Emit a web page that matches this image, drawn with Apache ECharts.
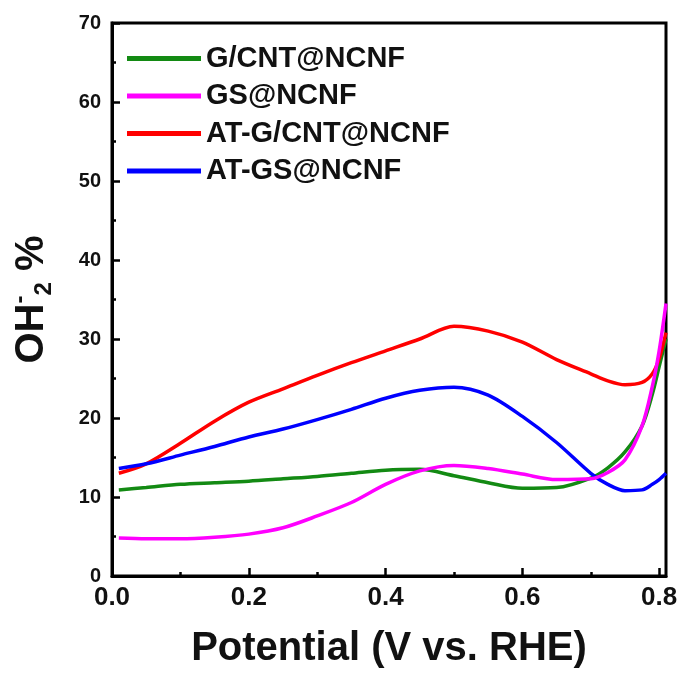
<!DOCTYPE html>
<html>
<head>
<meta charset="utf-8">
<script src="https://cdn.jsdelivr.net/npm/echarts@6/dist/echarts.min.js"></script>
<style>
  html, body { margin: 0; padding: 0; background: #fff; }
  #chart { width: 685px; height: 674px; }
</style>
</head>
<body>
<div id="chart"></div>
<script>
(function(){

    // potential (V vs. RHE), shared by all curves
    var potential = [0.01, 0.05, 0.10, 0.15, 0.20, 0.25, 0.30, 0.35, 0.40, 0.45, 0.50, 0.55, 0.60, 0.65, 0.70, 0.725, 0.75, 0.775, 0.79, 0.80, 0.81];

    var gCnt   = [10.9, 11.2, 11.6, 11.8, 12.0, 12.3, 12.6, 13.0, 13.4, 13.5, 12.7, 11.8, 11.1, 11.2, 12.4, 13.7, 15.7, 19.0, 23.0, 26.5, 30.0];
    var gs     = [4.8, 4.7, 4.7, 4.9, 5.3, 6.1, 7.6, 9.3, 11.6, 13.3, 14.0, 13.6, 12.9, 12.2, 12.3, 13.1, 14.7, 19.0, 24.0, 28.5, 34.5];
    var atGCnt = [13.0, 14.2, 16.8, 19.6, 22.0, 23.7, 25.4, 27.0, 28.5, 30.0, 31.6, 31.0, 29.6, 27.4, 25.6, 24.7, 24.2, 24.5, 25.6, 27.5, 30.8];
    var atGs   = [13.6, 14.2, 15.3, 16.4, 17.6, 18.6, 19.8, 21.1, 22.5, 23.5, 23.9, 22.9, 20.2, 16.9, 13.0, 11.6, 10.8, 10.9, 11.6, 12.2, 13.0];

    var names  = ['G/CNT@NCNF', 'GS@NCNF', 'AT-G/CNT@NCNF', 'AT-GS@NCNF'];
    var colors = ['#138a13', '#ff00ff', '#ff0000', '#0000ff'];

    var xMajor = [0, 0.2, 0.4, 0.6, 0.8];
    var xMinor = [0.1, 0.3, 0.5, 0.7];

    function pairs(ys) {
        return potential.map(function (x, i) { return [x, ys[i]]; });
    }

    var font = 'Liberation Sans, Arial, sans-serif';

    var series = [gCnt, gs, atGCnt, atGs].map(function (ys, i) {
        return {
            name: names[i],
            type: 'line',
            xAxisIndex: 0,
            data: pairs(ys),
            smooth: 0.3,
            showSymbol: false,
            symbol: 'none',
            lineStyle: { color: colors[i], width: 3.5 },
            itemStyle: { color: colors[i] },
            z: i === 1 ? 5 : 3
        };
    });

    var option = {
        animation: false,
        backgroundColor: '#fff',
        grid: {
            left: 112,
            right: 19,
            top: 23,
            bottom: 95,
            show: true,
            borderColor: '#000',
            borderWidth: 3,
            backgroundColor: 'transparent'
        },
        legend: {
            orient: 'vertical',
            left: 122,
            top: 39,
            icon: 'rect',
            itemWidth: 74,
            itemHeight: 5,
            itemGap: 8.5,
            data: names,
            textStyle: {
                fontFamily: font,
                fontWeight: 'bold',
                fontSize: 29,
                color: '#111'
            }
        },
        xAxis: [
            {
                type: 'value',
                min: 0,
                max: 0.81,
                name: 'Potential (V vs. RHE)',
                nameLocation: 'middle',
                nameGap: 53,
                nameTextStyle: {
                    fontFamily: font,
                    fontWeight: 'bold',
                    fontSize: 40,
                    color: '#111'
                },
                axisLine: { lineStyle: { color: '#000', width: 3 } },
                axisTick: {
                    inside: true,
                    length: 8,
                    customValues: xMajor,
                    lineStyle: { color: '#000', width: 2.5 }
                },
                axisLabel: {
                    customValues: xMajor,
                    margin: 9,
                    fontFamily: font,
                    fontWeight: 'bold',
                    fontSize: 26,
                    color: '#111',
                    formatter: function (v) { return v.toFixed(1); }
                },
                splitLine: { show: false }
            },
            {
                type: 'value',
                min: 0,
                max: 0.81,
                position: 'bottom',
                axisLine: { show: false },
                axisTick: {
                    inside: true,
                    length: 4,
                    customValues: xMinor,
                    lineStyle: { color: '#000', width: 2.5 }
                },
                axisLabel: { show: false },
                splitLine: { show: false }
            }
        ],
        yAxis: {
            type: 'value',
            min: 0,
            max: 70,
            interval: 10,
            name: '{a|OH}{sup|-}{sub|2}{a| %}',
            nameLocation: 'middle',
            nameGap: 56,
            nameTextStyle: {
                rich: {
                    a:   { fontFamily: font, fontWeight: 'bold', fontSize: 40, color: '#111', lineHeight: 48 },
                    sup: { fontFamily: font, fontWeight: 'bold', fontSize: 24, color: '#111', verticalAlign: 'top', lineHeight: 48, padding: [0, 0, 16, 0] },
                    sub: { fontFamily: font, fontWeight: 'bold', fontSize: 24, color: '#111', verticalAlign: 'bottom', lineHeight: 48, padding: [18, 0, 0, 0] }
                }
            },
            axisLine: { show: true, lineStyle: { color: '#000', width: 3 } },
            axisTick: {
                inside: true,
                length: 8,
                lineStyle: { color: '#000', width: 2.5 }
            },
            minorTick: {
                show: true,
                splitNumber: 2,
                length: 4,
                lineStyle: { color: '#000', width: 2.5 }
            },
            axisLabel: {
                margin: 11,
                fontFamily: font,
                fontWeight: 'bold',
                fontSize: 20,
                color: '#111'
            },
            splitLine: { show: false }
        },
        series: series
    };

    var myChart = echarts.init(document.getElementById('chart'));
    myChart.setOption(option);

})();
</script>
</body>
</html>
